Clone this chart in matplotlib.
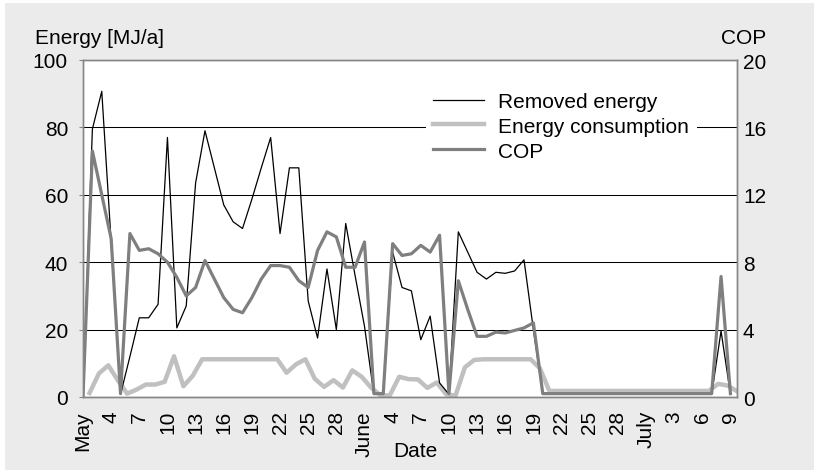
import numpy as np
import matplotlib
matplotlib.use('Agg')
import matplotlib.pyplot as plt
from matplotlib.patches import Rectangle

plt.rcParams['font.family'] = ['Liberation Sans', 'DejaVu Sans']
plt.rcParams['font.size'] = 15

# Daily values (one value per day)
removed_energy = [0, 79.5, 90.7, 46, 0.8, 12, 23.5, 23.5, 27.5, 77,
                  20.5, 27, 63.5, 79, 68, 57, 52, 50, 58.7, 68,
                  77, 48.5, 68, 68, 28.5, 17.5, 38, 20, 51.5, 36,
                  21, 0.8, 0.8, 43, 32.5, 31.5, 17, 24, 4.2, 0.8,
                  49, 43, 37, 35, 37, 36.7, 37.4, 40.7, 20, 1.0,
                  1.0, 1.0, 1.0, 1.0, 1.0, 1.0, 1.0, 1.0, 1.0, 1.0,
                  1.0, 1.0, 1.0, 1.0, 1.0, 1.0, 1.0, 0.8, 19.6, 0.8]

energy_consumption = [1.2, 7.0, 9.4, 5.0, 1.0, 2.2, 3.7, 3.7, 4.5, 12.1,
                      3.2, 6.3, 11.2, 11.2, 11.2, 11.2, 11.2, 11.2, 11.2, 11.2,
                      11.2, 7.2, 9.7, 11.2, 5.4, 3.0, 5.0, 2.8, 7.9, 6.0,
                      2.8, 0.5, 0.5, 6.0, 5.3, 5.2, 2.7, 4.3, 0.8, 0.4,
                      8.8, 11.0, 11.2, 11.2, 11.2, 11.2, 11.2, 11.2, 8.5, 1.8,
                      1.8, 1.8, 1.8, 1.8, 1.8, 1.8, 1.8, 1.8, 1.8, 1.8,
                      1.8, 1.8, 1.8, 1.8, 1.8, 1.8, 1.8, 3.9, 3.4, 1.7]

cop = [0, 14.6, 12, 9.4, 0.2, 9.7, 8.7, 8.8, 8.5, 8.0,
       7.1, 6.0, 6.5, 8.1, 7.0, 5.9, 5.2, 5.0, 5.9, 7.0,
       7.8, 7.8, 7.7, 6.9, 6.5, 8.7, 9.8, 9.5, 7.7, 7.7,
       9.2, 0.2, 0.2, 9.1, 8.4, 8.5, 9.0, 8.6, 9.6, 0.2,
       6.9, 5.2, 3.6, 3.6, 3.85, 3.8, 3.95, 4.1, 4.4, 0.2,
       0.2, 0.2, 0.2, 0.2, 0.2, 0.2, 0.2, 0.2, 0.2, 0.2,
       0.2, 0.2, 0.2, 0.2, 0.2, 0.2, 0.2, 0.2, 7.15, 0.2]

date_labels = ['May', '4', '7', '10', '13', '16', '19', '22', '25', '28',
               'June', '4', '7', '10', '13', '16', '19', '22', '25', '28',
               'July', '3', '6', '9']

days = np.arange(len(removed_energy))
# consumption readings are logged later in the day
consumption_shift = 0.7

axis_grey = '#868686'

fig = plt.figure(figsize=(8.19, 4.77), dpi=100)
fig.patches.append(Rectangle((5 / 819, 6 / 477), 809 / 819, 467 / 477,
                             transform=fig.transFigure, facecolor='#ebebeb',
                             edgecolor='none', zorder=-1))

ax = fig.add_axes([83 / 819, 79 / 477, 654 / 819, 337 / 477])
ax.set_facecolor('white')

l1, = ax.plot(days, removed_energy, color='black', lw=0.9, label='Removed energy')
l2, = ax.plot(days + consumption_shift, energy_consumption, color='#c0c0c0', lw=3.2,
              label='Energy consumption', zorder=1.5)
ax.set_xlim(0, len(days) - 1 + consumption_shift)
ax.set_ylim(0, 100)
ax.set_yticks(range(0, 101, 20))
ax.yaxis.grid(True, color='black', lw=0.75)
ax.set_xticks(days[::3])
ax.set_xticklabels(date_labels)
ax.tick_params(axis='x', length=0, pad=9.4, rotation=90)
ax.tick_params(axis='y', length=3, color=axis_grey, width=0.8, pad=7.8)

ax.set_xlabel('Date', va='baseline')
ax.xaxis.set_label_coords((415 - 83) / 654, (398 - 457) / 337)

ax2 = ax.twinx()
l3, = ax2.plot(days, cop, color='#7f7f7f', lw=2.3, label='COP')
ax2.set_ylim(0, 20)
ax2.set_yticks(range(0, 21, 4))
ax2.tick_params(axis='y', length=0, pad=4.3)

for a in (ax, ax2):
    for s in a.spines.values():
        s.set_color(axis_grey)
        s.set_linewidth(1.0)

leg = ax2.legend([l1, l2, l3], ['Removed energy', 'Energy consumption', 'COP'],
                 loc='center', bbox_to_anchor=(0.731, 0.8033),
                 frameon=True, facecolor='white', edgecolor='none', framealpha=1,
                 fancybox=False, handlelength=2.43, handletextpad=0.71,
                 labelspacing=0.28, borderpad=0.35)

fig.text(35 / 819, (477 - 44.5) / 477, 'Energy [MJ/a]', ha='left', va='baseline')
fig.text(766 / 819, (477 - 44.5) / 477, 'COP', ha='right', va='baseline')

fig.savefig('out.png', dpi=100)
